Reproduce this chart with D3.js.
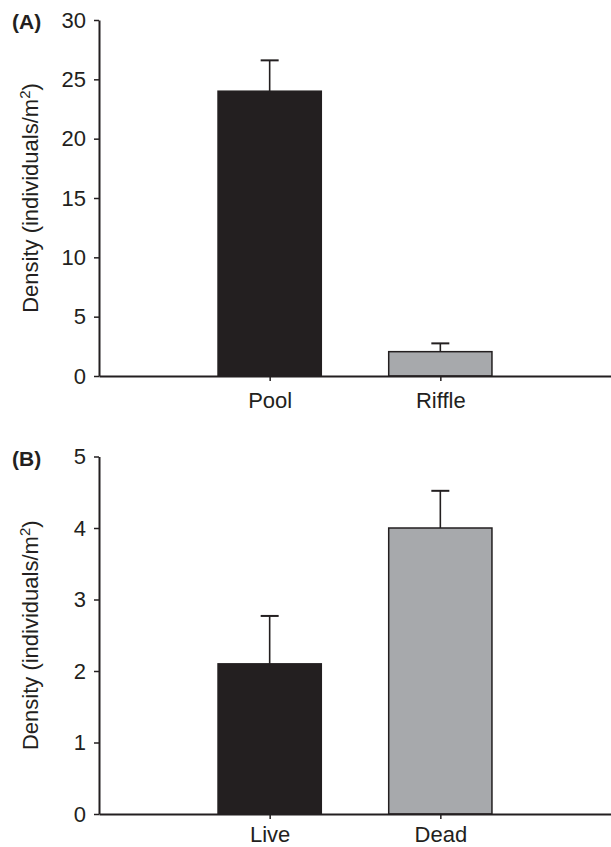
<!DOCTYPE html>
<html>
<head>
<meta charset="utf-8">
<script src="https://cdn.jsdelivr.net/npm/d3@7"></script>
<style>
  body { margin: 0; background: #fff; }
  text { font-family: 'Liberation Sans', Arial, sans-serif; fill: #231f20; }
</style>
</head>
<body>
<svg id="chart"></svg>
<script>
'use strict'

const width = 611,
  height = 847

// panel A: habitat
const habitatCats = ['Pool', 'Riffle']
const habitatMeans = [24, 2.05]
const habitatUpper = [26.6, 2.75]
const habitatTicks = [0, 5, 10, 15, 20, 25, 30]

// panel B: wood condition
const woodCats = ['Live', 'Dead']
const woodMeans = [2.1, 4.0]
const woodUpper = [2.77, 4.52]
const woodTicks = [0, 1, 2, 3, 4, 5]

const barColors = ['#231f20', '#a7a9ac']
const ink = '#231f20'
const fontFamily = "'Liberation Sans', Arial, sans-serif"

const svg = d3.select('#chart')
  .attr('width', width)
  .attr('height', height)

function drawPanel(opts) {
  const left = 99, right = 611
  const g = svg.append('g')

  const x = d3.scalePoint()
    .domain(opts.cats)
    .range([left, right])
    .padding(1)

  const y = d3.scaleLinear()
    .domain([0, d3.max(opts.ticks)])
    .range([opts.bottom, opts.top])

  const barW = x.step() * 0.605

  // bars
  g.selectAll('rect.bar')
    .data(opts.cats)
    .enter()
    .append('rect')
    .attr('class', 'bar')
    .attr('x', d => x(d) - barW / 2)
    .attr('y', (d, i) => y(opts.means[i]))
    .attr('width', barW)
    .attr('height', (d, i) => y(0) - y(opts.means[i]))
    .style('fill', (d, i) => barColors[i])
    .style('stroke', ink)
    .style('stroke-width', 1.5)

  // error bars (upper only)
  const err = g.selectAll('g.err')
    .data(opts.cats)
    .enter()
    .append('g')
    .attr('class', 'err')
  err.append('line')
    .attr('x1', d => x(d))
    .attr('x2', d => x(d))
    .attr('y1', (d, i) => y(opts.means[i]))
    .attr('y2', (d, i) => y(opts.upper[i]))
    .style('stroke', ink)
    .style('stroke-width', 1.6)
  err.append('line')
    .attr('x1', d => x(d) - 9)
    .attr('x2', d => x(d) + 9)
    .attr('y1', (d, i) => y(opts.upper[i]))
    .attr('y2', (d, i) => y(opts.upper[i]))
    .style('stroke', ink)
    .style('stroke-width', 2)

  // y axis
  const yAxis = g.append('g')
    .attr('transform', 'translate(' + left + ',0)')
    .call(d3.axisLeft(y)
      .tickValues(opts.ticks)
      .tickFormat(d3.format('d'))
      .tickSize(5)
      .tickPadding(8)
      .tickSizeOuter(0))
  yAxis.select('.domain').style('stroke', ink).style('stroke-width', 2)
  yAxis.selectAll('.tick line').style('stroke', ink).style('stroke-width', 1.5)
  yAxis.selectAll('.tick text')
    .style('font-size', '22px')
    .style('fill', ink)
    .style('font-family', fontFamily)

  // x axis
  const xAxis = g.append('g')
    .attr('transform', 'translate(0,' + opts.bottom + ')')
    .call(d3.axisBottom(x).tickSize(5).tickPadding(opts.labelPad).tickSizeOuter(0))
  xAxis.select('.domain').style('stroke', ink).style('stroke-width', 2)
  xAxis.selectAll('.tick line').style('stroke', ink).style('stroke-width', 1.5)
  xAxis.selectAll('.tick text')
    .style('font-size', '22px')
    .style('fill', ink)
    .style('font-family', fontFamily)

  // y title
  const title = g.append('text')
    .attr('transform', 'translate(38,' + (opts.top + opts.bottom) / 2 + ') rotate(-90)')
    .attr('text-anchor', 'middle')
    .style('font-size', '22px')
  title.append('tspan').text('Density (individuals/m')
  title.append('tspan').text('2').attr('dy', -8).style('font-size', '15px')
  title.append('tspan').text(')').attr('dy', 8)

  // panel letter
  g.append('text')
    .attr('x', 12)
    .attr('y', opts.top + 9)
    .style('font-size', '21px')
    .style('font-weight', 'bold')
    .text(opts.label)
}

drawPanel({
  cats: habitatCats, means: habitatMeans, upper: habitatUpper,
  ticks: habitatTicks, top: 20, bottom: 376, label: '(A)', labelPad: 11
})

drawPanel({
  cats: woodCats, means: woodMeans, upper: woodUpper,
  ticks: woodTicks, top: 456.5, bottom: 814, label: '(B)', labelPad: 7
})
</script>
</body>
</html>
